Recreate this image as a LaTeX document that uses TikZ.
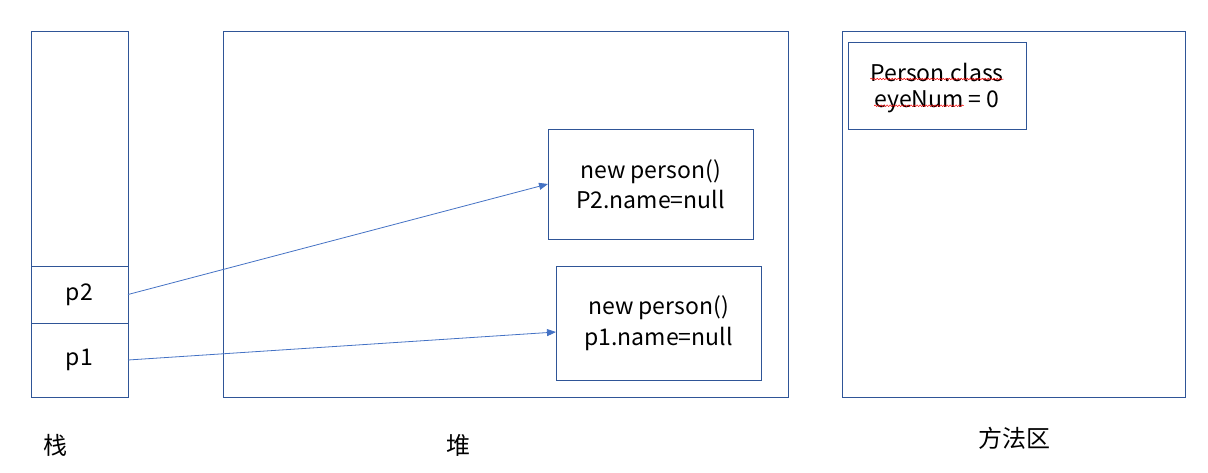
\documentclass[tikz,border=0pt]{standalone}
\usepackage{fontspec}
\setmainfont{Noto Sans CJK SC}
\usetikzlibrary{arrows.meta,decorations.pathmorphing}

\definecolor{boxblue}{HTML}{2F5597}
\definecolor{arrowblue}{HTML}{4472C4}

\tikzset{
	area/.style={draw=boxblue, line width=1pt, inner sep=0pt, outer sep=0pt, align=center},
	ref/.style={draw=arrowblue, line width=0.8pt, -{Triangle[length=9pt,width=7pt]}},
	caption/.style={font=\fontsize{24}{30}\selectfont},
	squiggle/.style={draw=red, line width=0.5pt, decorate,
		decoration={snake, amplitude=0.8pt, segment length=3pt}},
}

\begin{document}
\begin{tikzpicture}[x=1pt,y=-1pt,font=\fontsize{23}{30.5}\selectfont]
		\useasboundingbox (0,0) rectangle (1208,472);
		% stack
		\node[area, minimum width=97pt, minimum height=366pt] (stack) at (79.5,214) {};
		\node[area, minimum width=97pt, minimum height=57pt] (p2) at (79.5,294.5) {p2};
		\node[area, minimum width=97pt, minimum height=74pt] (p1) at (79.5,360) {p1};
		% heap
		\node[area, minimum width=565pt, minimum height=366pt] (heap) at (505.5,214) {};
		\node[area, minimum width=205pt, minimum height=110pt] (obj2) at (650.5,184) {new person()\\P2.name=null};
		\node[area, minimum width=205pt, minimum height=114pt] (obj1) at (658.5,323) {new person()\\p1.name=null};
		% method area
		\node[area, minimum width=343pt, minimum height=366pt] (method) at (1013.5,214) {};
		\node[area, minimum width=178pt, minimum height=87pt] (cls) at (937,85.5) {};
		\node[inner sep=0pt] (clsname) at (937,72) {Person.class};
		\node[inner sep=0pt] (eyenum) at (937,102) {eyeNum = 0};
		\node[inner sep=0pt, anchor=base west] (eyename) at (eyenum.base west) {\phantom{eyeNum}};
		\draw[squiggle] ([yshift=2pt]clsname.base west) -- ([yshift=2pt]clsname.base east);
		\draw[squiggle] ([yshift=2pt]eyename.base west) -- ([yshift=2pt]eyename.base east);
		% labels
		\node[caption] (lstack) at (55,445) {栈};
		\node[caption] (lheap) at (458,445) {堆};
		\node[caption] (lmethod) at (1014,438) {方法区};
		% references
		\draw[ref] (p2.east) -- (obj2.west);
		\draw[ref] (p1.east) -- ([yshift=-9pt]obj1.west);
	\end{tikzpicture}
\end{document}
